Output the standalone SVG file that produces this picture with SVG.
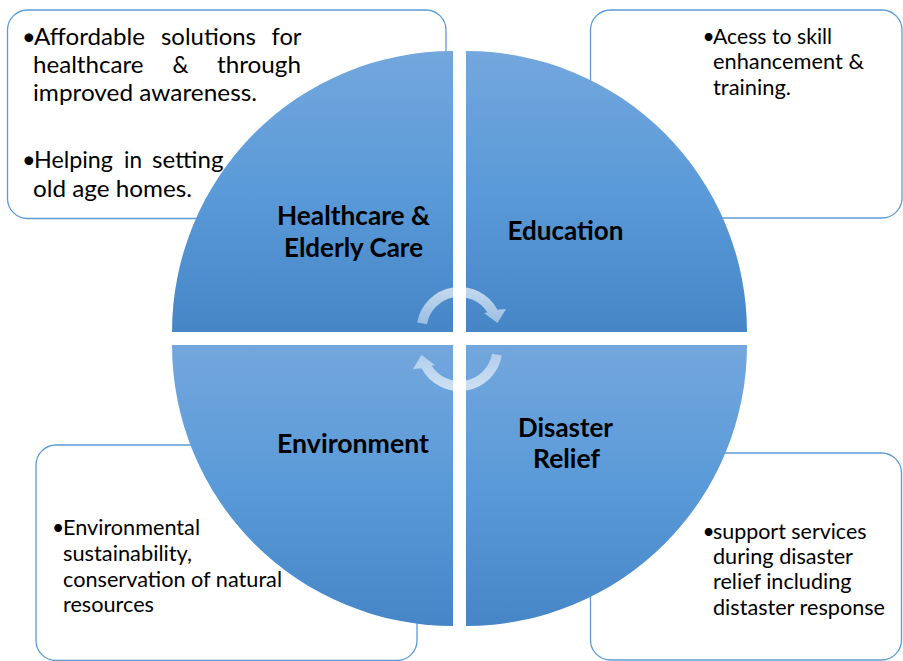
<svg xmlns="http://www.w3.org/2000/svg" width="903" height="661" viewBox="0 0 903 661">
  <defs>
    <linearGradient id="quadFill" x1="0" y1="0" x2="0" y2="1">
      <stop offset="0" stop-color="#73a7dd"/>
      <stop offset="0.5" stop-color="#5a9ad8"/>
      <stop offset="1" stop-color="#4686c7"/>
    </linearGradient>
    <linearGradient id="arrowFill" x1="0" y1="0" x2="0" y2="1">
      <stop offset="0" stop-color="#ffffff" stop-opacity="0.68"/>
      <stop offset="1" stop-color="#ffffff" stop-opacity="0.45"/>
    </linearGradient>
    <!-- circular arrow over the top of the cycle, clockwise -->
    <path id="cycleArrow" d="M417.2,322.5 A43,43 0 0 1 497.5,309.8 L506,309 L497.5,323 L484,313 L487.5,312.5 A33,33 0 0 0 427,324.3 Z"/>
  </defs>
  <style>
    .note { fill: #ffffff; stroke: #5b9bd5; stroke-width: 1.3; }
    .quad { fill: url(#quadFill); }
    .body { font-family: Lato, "Liberation Sans", sans-serif; fill: #000000; }
    .big { font-size: 23.5px; }
    .small { font-size: 21px; }
    .label { font-family: Lato, "Liberation Sans", sans-serif; font-weight: bold; font-size: 26px; fill: #000000; text-anchor: middle; }
    .arrow { fill: url(#arrowFill); }
  </style>

  <!-- note boxes behind the circle -->
  <g id="healthcare-notes">
    <rect class="note" x="7.5" y="10" width="438.5" height="208.5" rx="20"/>
    <text class="body big">
      <tspan x="22" y="45">•</tspan><tspan x="34" y="45" textLength="111" lengthAdjust="spacingAndGlyphs">Affordable</tspan><tspan x="161" y="45" textLength="95" lengthAdjust="spacingAndGlyphs">solutions</tspan><tspan x="271.5" y="45" textLength="29.5" lengthAdjust="spacingAndGlyphs">for</tspan>
      <tspan x="33" y="73" textLength="110.5" lengthAdjust="spacingAndGlyphs">healthcare</tspan><tspan x="172.5" y="73" textLength="16" lengthAdjust="spacingAndGlyphs">&amp;</tspan><tspan x="217" y="73" textLength="84" lengthAdjust="spacingAndGlyphs">through</tspan>
      <tspan x="33" y="101" textLength="224" lengthAdjust="spacingAndGlyphs">improved awareness.</tspan>
      <tspan x="22" y="168">•</tspan><tspan x="34" y="168" textLength="79" lengthAdjust="spacingAndGlyphs">Helping</tspan><tspan x="124" y="168" textLength="18" lengthAdjust="spacingAndGlyphs">in</tspan><tspan x="152" y="168" textLength="71.5" lengthAdjust="spacingAndGlyphs">setting</tspan>
      <tspan x="33" y="197" textLength="159" lengthAdjust="spacingAndGlyphs">old age homes.</tspan>
    </text>
  </g>
  <g id="education-notes">
    <rect class="note" x="590.5" y="10" width="311.5" height="208" rx="20"/>
    <text class="body small">
      <tspan x="702.5" y="43.5">•</tspan><tspan x="713" y="43.5" textLength="119" lengthAdjust="spacingAndGlyphs">Acess to skill</tspan>
      <tspan x="713" y="69" textLength="151" lengthAdjust="spacingAndGlyphs">enhancement &amp;</tspan>
      <tspan x="713" y="94.5" textLength="78" lengthAdjust="spacingAndGlyphs">training.</tspan>
    </text>
  </g>
  <g id="environment-notes">
    <rect class="note" x="36" y="445" width="381" height="215.5" rx="20"/>
    <text class="body small">
      <tspan x="52" y="535">•</tspan><tspan x="63" y="535" textLength="137" lengthAdjust="spacingAndGlyphs">Environmental</tspan>
      <tspan x="63" y="560.5" textLength="129" lengthAdjust="spacingAndGlyphs">sustainability,</tspan>
      <tspan x="63" y="586.5" textLength="219" lengthAdjust="spacingAndGlyphs">conservation of natural</tspan>
      <tspan x="63" y="611.5" textLength="91" lengthAdjust="spacingAndGlyphs">resources</tspan>
    </text>
  </g>
  <g id="disaster-notes">
    <rect class="note" x="590.5" y="453" width="311" height="207" rx="20"/>
    <text class="body small">
      <tspan x="702.5" y="538.5">•</tspan><tspan x="713" y="538.5" textLength="153.5" lengthAdjust="spacingAndGlyphs">support services</tspan>
      <tspan x="713" y="563.5" textLength="139.5" lengthAdjust="spacingAndGlyphs">during disaster</tspan>
      <tspan x="713" y="589" textLength="138.5" lengthAdjust="spacingAndGlyphs">relief including</tspan>
      <tspan x="713" y="614.5" textLength="172" lengthAdjust="spacingAndGlyphs">distaster response</tspan>
    </text>
  </g>

  <!-- four quadrants of the cycle -->
  <g id="healthcare">
    <path class="quad" d="M453,332 L172,332 A281,281 0 0 1 453,51 Z"/>
    <text class="label"><tspan x="353.5" y="225" textLength="153" lengthAdjust="spacingAndGlyphs">Healthcare &amp;</tspan><tspan x="353.5" y="256.5" textLength="139" lengthAdjust="spacingAndGlyphs">Elderly Care</tspan></text>
  </g>
  <g id="education">
    <path class="quad" d="M466,332 L466,51 A281,281 0 0 1 747,332 Z"/>
    <text class="label" x="565.5" y="240" textLength="116" lengthAdjust="spacingAndGlyphs">Education</text>
  </g>
  <g id="environment">
    <path class="quad" d="M453,345 L453,626 A281,281 0 0 1 172,345 Z"/>
    <text class="label" x="353" y="452.5" textLength="152" lengthAdjust="spacingAndGlyphs">Environment</text>
  </g>
  <g id="disaster-relief">
    <path class="quad" d="M466,345 L747,345 A281,281 0 0 1 466,626 Z"/>
    <text class="label"><tspan x="565.5" y="437" textLength="95" lengthAdjust="spacingAndGlyphs">Disaster</tspan><tspan x="566.5" y="468" textLength="67" lengthAdjust="spacingAndGlyphs">Relief</tspan></text>
  </g>

  <!-- cycle arrows in the centre -->
  <g id="connectors">
    <use href="#cycleArrow" class="arrow"/>
    <use href="#cycleArrow" class="arrow" transform="rotate(180 459.5 339)"/>
  </g>
</svg>
